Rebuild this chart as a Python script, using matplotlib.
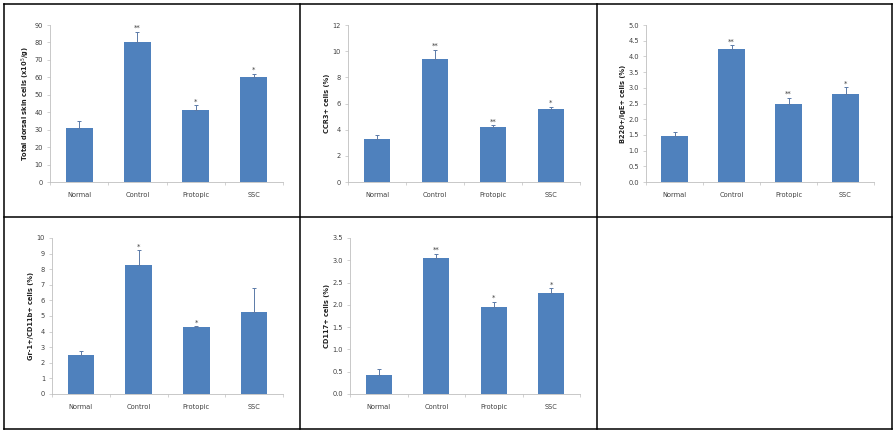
import matplotlib
matplotlib.use("Agg")
import matplotlib.pyplot as plt
from matplotlib.lines import Line2D
from matplotlib.ticker import FormatStrFormatter, MultipleLocator

groups = ["Normal", "Control", "Protopic", "SSC"]

total_mean = [31, 80, 41, 60]
total_err = [4, 6, 3, 2]
total_stars = ["", "**", "*", "*"]

ccr3_mean = [3.3, 9.4, 4.2, 5.55]
ccr3_err = [0.3, 0.7, 0.15, 0.2]
ccr3_stars = ["", "**", "**", "*"]

b220_mean = [1.45, 4.25, 2.5, 2.8]
b220_err = [0.15, 0.1, 0.18, 0.22]
b220_stars = ["", "**", "**", "*"]

gr1_mean = [2.5, 8.25, 4.3, 5.25]
gr1_err = [0.25, 0.95, 0.05, 1.55]
gr1_stars = ["", "*", "*", ""]

cd117_mean = [0.43, 3.05, 1.95, 2.27]
cd117_err = [0.14, 0.1, 0.12, 0.1]
cd117_stars = ["", "**", "*", "*"]

W, H = 896, 434
fig = plt.figure(figsize=(W / 100, H / 100), dpi=100)

bar_color = "#4F81BD"
axis_color = "#bfbfbf"
text_color = "#404040"


def px_axes(x0, x1, ytop, ybot):
    return fig.add_axes([x0 / W, 1 - ybot / H, (x1 - x0) / W, (ybot - ytop) / H])


def draw_panel(ax, mean, err, stars, ylabel, ymax, step, fmt):
    x = range(len(groups))
    ax.bar(x, mean, width=0.46, color=bar_color, zorder=2)
    ax.errorbar(x, mean, yerr=[[0] * len(err), err], fmt="none",
                ecolor="#5b7aa8", elinewidth=0.7, capsize=1.3, capthick=0.7, zorder=3)
    for i, s in enumerate(stars):
        if s:
            ax.text(i, mean[i] + err[i] + ymax * 0.005, s, ha="center", va="bottom",
                    fontsize=5, color=text_color)
    ax.set_xlim(-0.5, len(groups) - 0.5)
    ax.set_ylim(0, ymax)
    ax.yaxis.set_major_locator(MultipleLocator(step))
    if fmt:
        ax.yaxis.set_major_formatter(FormatStrFormatter(fmt))
    ax.set_xticks(list(x))
    ax.set_xticklabels(groups)
    ax.set_xticks([i - 0.5 for i in range(len(groups) + 1)], minor=True)
    ax.tick_params(axis="x", which="major", length=0, pad=7, labelsize=4.8, labelcolor=text_color)
    ax.tick_params(axis="x", which="minor", length=2, width=0.5, color=axis_color)
    ax.tick_params(axis="y", length=2, width=0.5, color=axis_color, labelsize=4.8,
                   labelcolor=text_color, pad=3)
    for side in ["top", "right"]:
        ax.spines[side].set_visible(False)
    for side in ["left", "bottom"]:
        ax.spines[side].set_color(axis_color)
        ax.spines[side].set_linewidth(0.6)
    ax.set_ylabel(ylabel, fontsize=4.8, fontweight="bold", color="#202020", labelpad=2)


ax1 = px_axes(50, 283, 25, 182)
draw_panel(ax1, total_mean, total_err, total_stars,
           "Total dorsal skin cells (x10$^5$/g)", 90, 10, None)

ax2 = px_axes(348, 580, 25, 182)
draw_panel(ax2, ccr3_mean, ccr3_err, ccr3_stars, "CCR3+ cells (%)", 12, 2, None)

ax3 = px_axes(646, 874, 25, 182)
draw_panel(ax3, b220_mean, b220_err, b220_stars, "B220+/IgE+ cells (%)", 5.0, 0.5, "%.1f")

ax4 = px_axes(52, 283, 238, 394)
draw_panel(ax4, gr1_mean, gr1_err, gr1_stars, "Gr-1+/CD11b+ cells (%)", 10, 1, None)

ax5 = px_axes(350, 580, 238, 394)
draw_panel(ax5, cd117_mean, cd117_err, cd117_stars, "CD117+ cells (%)", 3.5, 0.5, "%.1f")

# table borders
xs = [4, 300, 597, 892]
ys = [4, 217, 429]
for xv in xs:
    fig.add_artist(Line2D([xv / W, xv / W], [1 - ys[0] / H, 1 - ys[-1] / H],
                          color="black", linewidth=1.1))
for yv in ys:
    fig.add_artist(Line2D([xs[0] / W, xs[-1] / W], [1 - yv / H, 1 - yv / H],
                          color="black", linewidth=1.1))

fig.savefig("out.png", dpi=100)
